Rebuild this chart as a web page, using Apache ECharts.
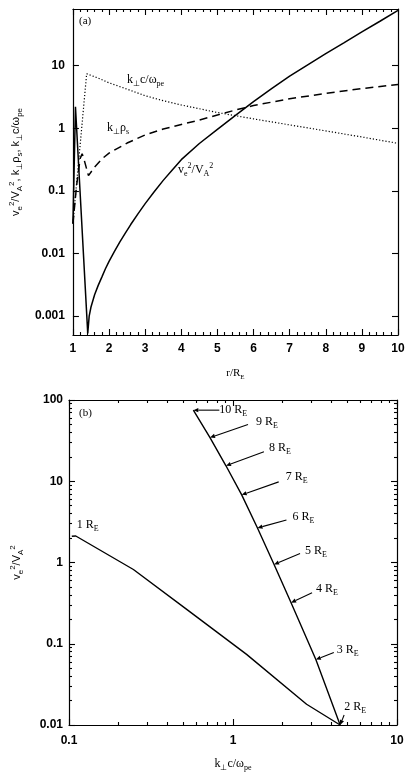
<!DOCTYPE html>
<html><head><meta charset="utf-8">
<script src="https://cdn.jsdelivr.net/npm/echarts@6/dist/echarts.min.js"></script>
<style>html,body{margin:0;padding:0;background:#fff}#c{width:409px;height:773px}</style>
</head><body><div id="c"></div>
<script>
// ---------- Panel (a): quantities vs r/R_E ----------
const aRSolid = [1.0, 1.07, 1.41, 1.45, 1.5, 1.6, 1.7, 1.8, 1.9, 2.0, 2.15, 2.3, 2.45, 2.6, 2.8, 3.0, 3.25, 3.5, 3.75, 4.0, 4.5, 5.0, 5.5, 6.0, 6.5, 7.0, 7.5, 8.0, 8.5, 9.0, 9.5, 10.0];
const aSolid  = [0.03, 2.2, 0.00053, 0.001, 0.0014, 0.0022, 0.0031, 0.0042, 0.0057, 0.0075, 0.0108, 0.0153, 0.0212, 0.029, 0.043, 0.0625, 0.097, 0.147, 0.216, 0.315, 0.57, 0.96, 1.6, 2.66, 4.3, 6.8, 10.3, 15.5, 23, 34.5, 51, 76];
const aRDash  = [1.0, 1.1, 1.2, 1.255, 1.3, 1.43, 1.6, 1.82, 2.0, 2.5, 3.0, 3.5, 4.0, 4.5, 5.0, 5.5, 6.0, 7.0, 8.0, 9.0, 10.0];
const aDash   = [0.03, 0.12, 0.33, 0.39, 0.33, 0.175, 0.24, 0.33, 0.40, 0.58, 0.78, 0.97, 1.15, 1.35, 1.62, 1.95, 2.3, 2.95, 3.6, 4.3, 5.0];
const aRDot   = [1.0, 1.38, 1.7, 2.0, 2.5, 3.0, 3.5, 4.0, 5.0, 6.0, 7.0, 8.0, 9.0, 10.0];
const aDot    = [0.03, 7.4, 6.3, 5.3, 4.2, 3.3, 2.75, 2.35, 1.78, 1.41, 1.13, 0.906, 0.724, 0.573];
const aYTicks = [0.001, 0.01, 0.1, 1, 10];
const aYTickLabels = ['0.001', '0.01', '0.1', '1', '10'];

// ---------- Panel (b): v_e^2/V_A^2 vs k_perp c/omega_pe ----------
const bLowK = [0.104, 0.110, 0.247, 0.522, 1.21, 2.81, 4.5];
const bLowV = [2.1, 2.12, 0.82, 0.265, 0.074, 0.018, 0.01];
const bUpR  = [2, 3, 4, 5, 6, 7, 8, 9, 10];
const bUpK  = [4.5, 3.2, 2.26, 1.78, 1.41, 1.13, 0.906, 0.724, 0.573];
const bUpV  = [0.01, 0.064, 0.32, 0.945, 2.66, 6.8, 15.5, 34.5, 75];
const bXTicks = [0.1, 1, 10];
const bXTickLabels = ['0.1', '1', '10'];
const bYTicks = [0.01, 0.1, 1, 10, 100];
const bYTickLabels = ['0.01', '0.1', '1', '10', '100'];
const bXMinor = [0.2, 0.3, 0.4, 0.5, 0.6, 0.7, 0.8, 0.9, 2, 3, 4, 5, 6, 7, 8, 9];
const bYMinor = [0.02, 0.03, 0.04, 0.05, 0.06, 0.07, 0.08, 0.09, 0.2, 0.3, 0.4, 0.5, 0.6, 0.7, 0.8, 0.9,
                 2, 3, 4, 5, 6, 7, 8, 9, 20, 30, 40, 50, 60, 70, 80, 90];

// label placement (pixel offsets) for the r labels of panel (b): arrow tail from tip, text from tail
const bArrowOff = [[4, -10], [18, -7], [21, -10], [26, -11], [29, -8], [37, -13], [38, -14], [38, -13], [26, 0]];
const bTextOff  = [[0, -8], [3, -3], [4, -4], [5, -3], [6, -3], [7, -5], [5, -4], [8, -3], [0, 0]];

const SANS = '"Liberation Sans", Arial, sans-serif';
const SERIF = '"Liberation Serif", "Times New Roman", serif';
const TICK = '#000';

function zip(a, b) { return a.map((v, i) => [v, b[i]]); }
function fmt(ticks, labels) {
  return v => {
    const i = ticks.findIndex(t => Math.abs(Math.log10(t) - Math.log10(v)) < 1e-6);
    return i >= 0 ? labels[i] : '';
  };
}
const richSerif = (fs) => ({
  m: { fontFamily: SERIF, fontSize: fs, lineHeight: 16, color: '#000' },
  s: { fontFamily: SERIF, fontSize: Math.round(fs * 0.68), lineHeight: 8, verticalAlign: 'bottom', color: '#000' },
  p: { fontFamily: SERIF, fontSize: Math.round(fs * 0.68), lineHeight: 8, verticalAlign: 'top', color: '#000' }
});
const richSans = (fs) => ({
  m: { fontFamily: SANS, fontSize: fs, lineHeight: 16, color: '#000' },
  s: { fontFamily: SANS, fontSize: Math.round(fs * 0.7), lineHeight: 8, verticalAlign: 'bottom', color: '#000' },
  p: { fontFamily: SANS, fontSize: Math.round(fs * 0.7), lineHeight: 8, verticalAlign: 'top', color: '#000' }
});

const LINE = { show: true, onZero: false, lineStyle: { color: '#000', width: 1.2 } };
const tk = (len, vals) => {
  const o = { show: true, inside: true, length: len, lineStyle: { color: TICK, width: 1.1 } };
  if (vals) o.customValues = vals;
  return o;
};
function axis(o) {
  return Object.assign({
    splitLine: { show: false },
    axisLine: LINE,
    axisTick: tk(6),
    axisLabel: { show: false }
  }, o);
}
const tickLabel = (margin) => ({ show: true, margin: margin, fontFamily: SANS, fontSize: 12, color: '#000', fontWeight: 'bold' });

const option = {
  animation: false,
  backgroundColor: '#fff',
  grid: [
    { left: 70, top: 9, width: 328, height: 326 },
    { left: 69, top: 400, width: 328, height: 326 }
  ],
  xAxis: [
    axis({ gridIndex: 0, type: 'value', min: 1, max: 10, interval: 1, position: 'bottom',
      minorTick: { show: true, splitNumber: 5, length: 3, lineStyle: { color: TICK, width: 1.1 } },
      axisLabel: tickLabel(8),
      name: '{m|r/R}{s|E}', nameLocation: 'middle', nameGap: 30,
      nameTextStyle: { rich: richSerif(11) } }),
    axis({ gridIndex: 0, type: 'value', min: 1, max: 10, interval: 1, position: 'top',
      minorTick: { show: true, splitNumber: 5, length: 3, lineStyle: { color: TICK, width: 1.1 } } }),
    axis({ gridIndex: 1, type: 'log', min: 0.1, max: 10, position: 'bottom',
      axisLabel: Object.assign(tickLabel(10), { customValues: bXTicks, formatter: fmt(bXTicks, bXTickLabels) }),
      axisTick: tk(6, bXTicks),
      name: '{m|k}{s|⊥}{m|c/ω}{s|pe}', nameLocation: 'middle', nameGap: 31,
      nameTextStyle: { rich: richSerif(12) } }),
    axis({ gridIndex: 1, type: 'log', min: 0.1, max: 10, position: 'bottom', axisLine: { show: false },
      axisTick: tk(3, bXMinor) }),
    axis({ gridIndex: 1, type: 'log', min: 0.1, max: 10, position: 'top', axisTick: tk(6, bXTicks) }),
    axis({ gridIndex: 1, type: 'log', min: 0.1, max: 10, position: 'top', axisLine: { show: false },
      axisTick: tk(3, bXMinor) })
  ],
  yAxis: [
    axis({ gridIndex: 0, type: 'log', min: 0.0005, max: 80, position: 'left',
      axisLabel: Object.assign(tickLabel(8), { customValues: aYTicks, formatter: fmt(aYTicks, aYTickLabels) }),
      axisTick: tk(6, aYTicks),
      name: '{m|v}{s|e}{p|2}{m|/V}{s|A}{p|2}{m|, k}{s|⊥}{m|ρ}{s|s}{m|, k}{s|⊥}{m|c/ω}{s|pe}',
      nameLocation: 'middle', nameGap: 47, nameRotate: 90,
      nameTextStyle: { rich: richSans(11), padding: [0, 0, 0, 20] } }),
    axis({ gridIndex: 0, type: 'log', min: 0.0005, max: 80, position: 'right', axisTick: tk(6, aYTicks) }),
    axis({ gridIndex: 1, type: 'log', min: 0.01, max: 100, position: 'left',
      axisLabel: Object.assign(tickLabel(6), { customValues: bYTicks, formatter: fmt(bYTicks, bYTickLabels) }),
      axisTick: tk(6, bYTicks),
      name: '{m|v}{s|e}{p|2}{m|/V}{s|A}{p|2}', nameLocation: 'middle', nameGap: 44, nameRotate: 90,
      nameTextStyle: { rich: richSans(11) } }),
    axis({ gridIndex: 1, type: 'log', min: 0.01, max: 100, position: 'left', axisLine: { show: false },
      axisTick: tk(3, bYMinor) }),
    axis({ gridIndex: 1, type: 'log', min: 0.01, max: 100, position: 'right', axisTick: tk(6, bYTicks) }),
    axis({ gridIndex: 1, type: 'log', min: 0.01, max: 100, position: 'right', axisLine: { show: false },
      axisTick: tk(3, bYMinor) })
  ],
  series: [
    { name: 've2/VA2', type: 'line', xAxisIndex: 0, yAxisIndex: 0, showSymbol: false, symbol: 'none',
      lineStyle: { color: '#000', width: 1.5 }, data: zip(aRSolid, aSolid) },
    { name: 'k rho_s', type: 'line', xAxisIndex: 0, yAxisIndex: 0, showSymbol: false, symbol: 'none',
      lineStyle: { color: '#000', width: 1.5, type: [8, 5] }, data: zip(aRDash, aDash) },
    { name: 'k c/wpe', type: 'line', xAxisIndex: 0, yAxisIndex: 0, showSymbol: false, symbol: 'none',
      lineStyle: { color: '#000', width: 1.2, type: [1.2, 2] }, data: zip(aRDot, aDot) },
    { name: 'b lower', type: 'line', xAxisIndex: 2, yAxisIndex: 2, showSymbol: false, symbol: 'none',
      lineStyle: { color: '#000', width: 1.4 }, data: zip(bLowK, bLowV) },
    { name: 'b upper', type: 'line', xAxisIndex: 2, yAxisIndex: 2, showSymbol: false, symbol: 'none',
      lineStyle: { color: '#000', width: 1.4 }, data: zip(bUpK, bUpV) }
  ]
};

const chart = echarts.init(document.getElementById('c'), null, { renderer: 'canvas' });
chart.setOption(option);

function rtext(x, y, text, fs, align) {
  return { type: 'text', x: x, y: y, z: 100,
    style: { text: text, rich: richSerif(fs), align: align || 'left', verticalAlign: 'middle', fill: '#000' } };
}
const gfx = [
  rtext(79, 21, '{m|(a)}', 11),
  rtext(79, 413, '{m|(b)}', 11),
  rtext(127, 80, '{m|k}{s|⊥}{m|c/ω}{s|pe}', 12),
  rtext(107, 128, '{m|k}{s|⊥}{m|ρ}{s|s}', 12),
  rtext(178, 170, '{m|v}{s|e}{p|2}{m|/V}{s|A}{p|2}', 12)
];
const p1 = chart.convertToPixel({ seriesIndex: 3 }, [bLowK[0], bLowV[0]]);
gfx.push(rtext(p1[0] + 5, p1[1] - 11, '{m|1 R}{s|E}', 12));
bUpR.forEach((r, i) => {
  const tip = chart.convertToPixel({ seriesIndex: 4 }, [bUpK[i], bUpV[i]]);
  const tail = [tip[0] + bArrowOff[i][0], tip[1] + bArrowOff[i][1]];
  const dx = tip[0] - tail[0], dy = tip[1] - tail[1];
  const L = Math.hypot(dx, dy) || 1;
  const ux = dx / L, uy = dy / L;
  const hl = 5, hw = 2.2;
  const base = [tip[0] - ux * hl, tip[1] - uy * hl];
  gfx.push({ type: 'line', z: 100, shape: { x1: tail[0], y1: tail[1], x2: base[0], y2: base[1] },
    style: { stroke: '#000', lineWidth: 1.1 } });
  gfx.push({ type: 'polygon', z: 100, shape: { points: [tip, [base[0] - uy * hw, base[1] + ux * hw], [base[0] + uy * hw, base[1] - ux * hw]] },
    style: { fill: '#000' } });
  gfx.push(rtext(tail[0] + bTextOff[i][0], tail[1] + bTextOff[i][1], '{m|' + r + ' R}{s|E}', 12));
});
chart.setOption({ graphic: gfx });
</script>
</body></html>
